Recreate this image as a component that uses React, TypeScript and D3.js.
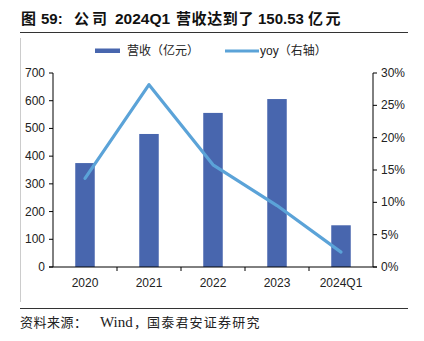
import React from "react";
import * as d3 from "d3";

const categories = ["2020", "2021", "2022", "2023", "2024Q1"];
const revenue = [375, 480, 556, 606, 150.53];
const yoy = [13.7, 28.2, 15.8, 9.5, 2.3];
const leftTicks = [0, 100, 200, 300, 400, 500, 600, 700];
const rightTicks = [0, 5, 10, 15, 20, 25, 30];

const W = 424, H = 341;
const plot = { left: 53, right: 373, top: 73, bottom: 267 };
const BAR = "#4866ae";
const LINE = "#5ba3d8";
const SANS = "'Liberation Sans', Arial, 'Noto Sans CJK SC', sans-serif";
const CJK = "'Noto Sans CJK SC', sans-serif";
const SERIF = "'Liberation Serif', 'Times New Roman', serif";

export default function App() {
  const xb = d3.scaleBand<string>().domain(categories).range([plot.left, plot.right]);
  const yL = d3.scaleLinear().domain([0, 700]).range([plot.bottom, plot.top]);
  const yR = d3.scaleLinear().domain([0, 30]).range([plot.bottom, plot.top]);
  const line = d3.line<number>()
    .x((_, i) => (xb(categories[i]) as number) + xb.bandwidth() / 2)
    .y((d) => yR(d));
  const bw = 19.5;
  return (
    <svg width={W} height={H} style={{ position: "absolute", left: 0, top: 0, background: "#fff" }}>
      <rect x={0} y={0} width={W} height={H} fill="#fff" />
      <text y={24} fontSize={15} fill="#111">
        <tspan x={21} fontFamily={CJK} fontWeight="bold">图</tspan>
        <tspan x={41} fontFamily={SANS} fontWeight="bold">59:</tspan>
        <tspan x={74} fontFamily={CJK} fontWeight="bold" letterSpacing={3}>公司</tspan>
        <tspan x={115} fontFamily={SANS} fontWeight="bold" fontSize={15.5}>2024Q1</tspan>
        <tspan x={176} fontFamily={CJK} fontWeight="bold" letterSpacing={0.6}>营收达到了</tspan>
        <tspan x={258} fontFamily={SANS} fontWeight="bold">150.53</tspan>
        <tspan x={308} fontFamily={CJK} fontWeight="bold" letterSpacing={2.5}>亿元</tspan>
      </text>
      <line x1={20} x2={408} y1={32.5} y2={32.5} stroke="#333" strokeWidth={1} />
      <line x1={20.5} x2={20.5} y1={38} y2={302} stroke="#ccc" strokeWidth={1} />
      <line x1={20} x2={408} y1={308.5} y2={308.5} stroke="#333" strokeWidth={1} />
      <text y={327} fontSize={13} fill="#222">
        <tspan x={20} fontFamily={CJK} letterSpacing={0.5}>资料来源：</tspan>
        <tspan x={100} fontFamily={SERIF} fontSize={15}>Wind</tspan>
        <tspan x={134} fontFamily={CJK}>，</tspan>
        <tspan x={147} fontFamily={CJK} letterSpacing={1.2}>国泰君安证券研究</tspan>
      </text>

      {/* legend */}
      <rect x={95} y={48.5} width={25} height={4.5} fill={BAR} />
      <text x={127} y={55} fontFamily={CJK} fontSize={12} fill="#222">营收（亿元）</text>
      <line x1={225} x2={259} y1={51} y2={51} stroke={LINE} strokeWidth={3} />
      <text x={260} y={55} fontFamily={CJK} fontSize={12} fill="#222"><tspan fontFamily={SANS}>yoy</tspan>（右轴）</text>

      {/* bars */}
      {revenue.map((v, i) => {
        const cx = (xb(categories[i]) as number) + xb.bandwidth() / 2;
        return <rect key={i} x={cx - bw / 2} y={yL(v)} width={bw} height={plot.bottom - yL(v)} fill={BAR} />;
      })}

      {/* line */}
      <path d={line(yoy) as string} fill="none" stroke={LINE} strokeWidth={3.2} strokeLinejoin="round" strokeLinecap="round" />

      {/* left axis */}
      <line x1={plot.left} x2={plot.left} y1={plot.top} y2={plot.bottom} stroke="#000" />
      {leftTicks.map((t) => (
        <g key={t}>
          <line x1={plot.left - 4} x2={plot.left} y1={yL(t)} y2={yL(t)} stroke="#000" />
          <text x={plot.left - 8} y={yL(t) + 4} textAnchor="end" fontFamily={SANS} fontSize={12} fill="#222">{t}</text>
        </g>
      ))}
      {/* right axis */}
      <line x1={plot.right} x2={plot.right} y1={plot.top} y2={plot.bottom} stroke="#000" />
      {rightTicks.map((t) => (
        <g key={t}>
          <line x1={plot.right} x2={plot.right + 4} y1={yR(t)} y2={yR(t)} stroke="#000" />
          <text x={plot.right + 8} y={yR(t) + 4} fontFamily={SANS} fontSize={12} fill="#222">{t}%</text>
        </g>
      ))}
      {/* x axis */}
      <line x1={plot.left - 4} x2={plot.right + 4} y1={plot.bottom} y2={plot.bottom} stroke="#000" />
      {categories.map((c, i) => {
        const x0 = xb(c) as number;
        return (
          <g key={c}>
            {i > 0 && <line x1={x0} x2={x0} y1={plot.bottom} y2={plot.bottom + 4} stroke="#000" />}
            <text x={x0 + xb.bandwidth() / 2} y={287} textAnchor="middle" fontFamily={SANS} fontSize={12} fill="#222">{c}</text>
          </g>
        );
      })}
    </svg>
  );
}
